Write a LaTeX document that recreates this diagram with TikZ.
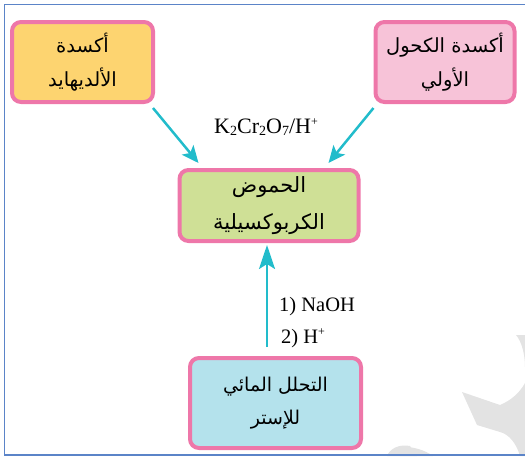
\documentclass[tikz,border=0pt]{standalone}
\usepackage{fontspec}
\setmainfont{Liberation Serif}
\newfontfamily\arabicfont[Script=Arabic]{DejaVu Sans}
\TeXXeTstate=1
\usetikzlibrary{arrows.meta,calc}
\definecolor{framec}{HTML}{5B84C8}
\definecolor{pinkb}{HTML}{EE77A9}
\definecolor{orangef}{HTML}{FDD470}
\definecolor{pinkf}{HTML}{F7C3D8}
\definecolor{greenf}{HTML}{CFE096}
\definecolor{bluef}{HTML}{B4E2EC}
\definecolor{arrowc}{HTML}{22BCCB}
\definecolor{wm}{HTML}{E3E3E3}
\newcommand{\ar}[1]{\beginR #1\endR}
\newcommand{\subn}[1]{\raisebox{-2.5pt}{\fontsize{14}{14}\selectfont #1}}
\newcommand{\supn}[1]{\raisebox{8pt}{\fontsize{12}{12}\selectfont #1}}
\begin{document}
\begin{tikzpicture}[x=1pt,y=-1pt,
  box/.style={draw=pinkb, line width=4pt, rounded corners=9pt, inner sep=0pt, align=center,
    font=\arabicfont\fontsize{19.5}{34}\selectfont},
  conn/.style={arrowc, line width=2.5pt, -{Stealth[length=17pt,width=15pt,inset=4pt]}},
  connup/.style={arrowc, line width=2.5pt, -{Stealth[length=24pt,width=16pt,inset=5pt]}},
  lbl/.style={font=\fontsize{20.5}{22}\selectfont, inner sep=0pt},
  framestyle/.style={framec, line width=1.6pt}]
\useasboundingbox (0,0) rectangle (525,456);
\clip (0,0) rectangle (525,456);
% watermark
\fill[wm] (462,392) -- (500,405) .. controls (512,400) and (520,392) .. (525,383) -- (525,456) -- (520,456)
  .. controls (516,442) and (508,434) .. (500,432) -- (477,425) -- cycle;
\fill[wm] (516,335) .. controls (522,342) and (525,355) .. (525,367) -- (525,335) -- cycle;
\fill[wm] (400,447) .. controls (412,446) and (425,450) .. (433,456) -- (400,456) -- cycle;
\fill[wm] (387,456) .. controls (390,448) and (400,444) .. (410,446) -- (417,456) -- cycle;
% frame
\draw[framestyle] (530,4.5) -- (4.5,4.5) -- (4.5,455) -- (530,455);
% boxes
\node[box, fill=orangef, minimum width=141pt, minimum height=80pt] (ald) at (82.5,62)
  {\ar{أكسدة}\\\ar{الألديهايد}};
\node[box, fill=pinkf, minimum width=139pt, minimum height=80pt] (alc) at (445,62)
  {\ar{أكسدة الكحول}\\\ar{الأولي}};
\node[box, fill=greenf, minimum width=179pt, minimum height=71pt,
  font=\arabicfont\fontsize{21}{37}\selectfont] (acid) at (269,205.5)
  {\ar{الحموض}\\\ar{الكربوكسيلية}};
\node[box, fill=bluef, minimum width=171pt, minimum height=90pt,
  font=\arabicfont\fontsize{19}{33}\selectfont] (est) at (275.5,403)
  {\ar{التحلل المائي}\\\ar{للإستر}};
% labels
\node[lbl, anchor=base, font=\fontsize{22}{24}\selectfont] (ox) at (266,133)
  {K\subn{2}Cr\subn{2}O\subn{7}/H\supn{+}};
\node[lbl, anchor=base west] (s1) at (279,311) {1) NaOH};
\node[lbl, anchor=base west] (s2) at (281,343) {2) H\supn{+}};
% connectors
\draw[conn] ($(ald.south east)+(-2,4)$) -- ($(acid.north west)+(21,-5)$);
\draw[conn] ($(alc.south west)+(0,4)$) -- ($(acid.north east)+(-32,-5)$);
\draw[connup] ($(est.north)+(-8.5,-9)$) -- ($(acid.south)+(-2,2)$);
\end{tikzpicture}
\end{document}
